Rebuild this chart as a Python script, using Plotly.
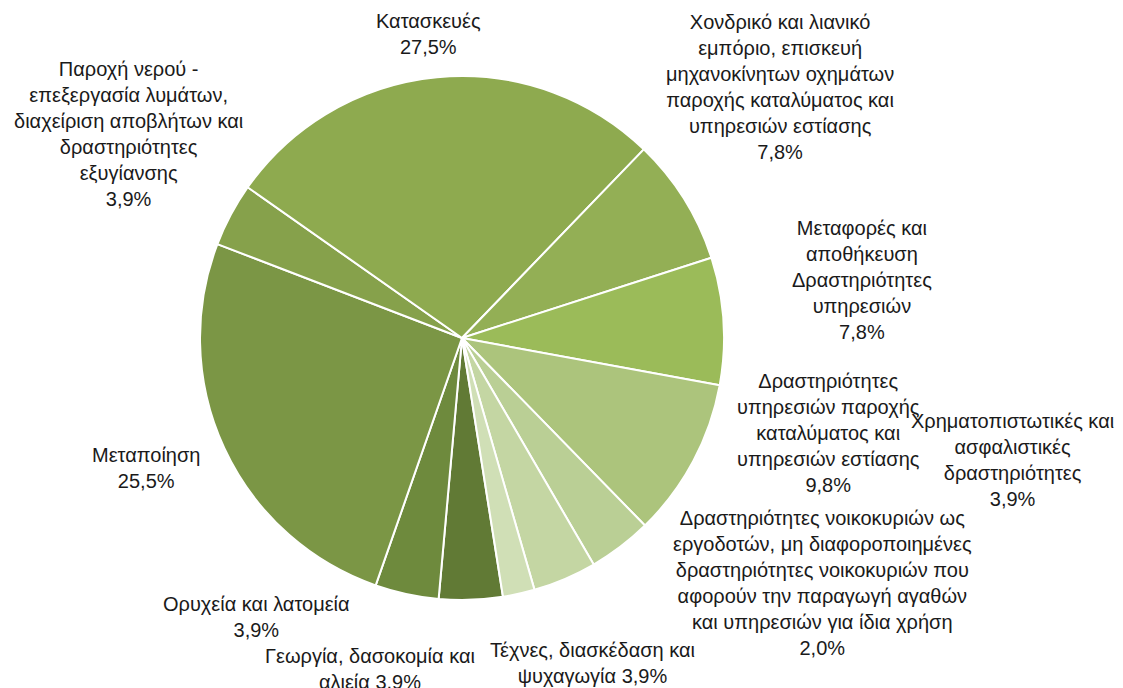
import plotly.graph_objects as go

# Data (counts; percentages derived)
categories = [
    "Γεωργία, δασοκομία και<br>αλιεία",
    "Ορυχεία και λατομεία",
    "Μεταποίηση",
    "Παροχή νερού -<br>επεξεργασία λυμάτων,<br>διαχείριση αποβλήτων και<br>δραστηριότητες<br>εξυγίανσης",
    "Κατασκευές",
    "Χονδρικό και λιανικό<br>εμπόριο, επισκευή<br>μηχανοκίνητων οχημάτων<br>παροχής καταλύματος και<br>υπηρεσιών εστίασης",
    "Μεταφορές και<br>αποθήκευση<br>Δραστηριότητες<br>υπηρεσιών",
    "Δραστηριότητες<br>υπηρεσιών παροχής<br>καταλύματος και<br>υπηρεσιών εστίασης",
    "Χρηματοπιστωτικές και<br>ασφαλιστικές<br>δραστηριότητες",
    "Τέχνες, διασκέδαση και<br>ψυχαγωγία",
    "Δραστηριότητες νοικοκυριών ως<br>εργοδοτών, μη διαφοροποιημένες<br>δραστηριότητες νοικοκυριών που<br>αφορούν την παραγωγή αγαθών<br>και υπηρεσιών για ίδια χρήση",
]
values = [2, 2, 13, 2, 14, 4, 4, 5, 2, 2, 1]

# Styling
colors = ["#617A35", "#6E8A3D", "#7B9645", "#86A14B", "#8EAA4F", "#93AF55",
          "#9BBB59", "#ACC47C", "#BACF95", "#C4D6A3", "#D0DFB6"]
pct_sep = [" ", "<br>", "<br>", "<br>", "<br>", "<br>", "<br>", "<br>", "<br>", " ", "<br>"]
label_pos = [(370, 669), (256, 617), (146, 468), (128, 134), (428, 34), (780, 87),
             (862, 280), (828, 433), (1012, 460), (592, 663), (822, 583)]

W, H = 1123, 688
OFF = 8  # page body margin offset

def px_x(px):
    return (px - OFF) / W

def px_y(py):
    return 1 - (py - OFF) / H

total = sum(values)

fig = go.Figure(go.Pie(
    labels=[c.replace("<br>", " ") for c in categories],
    values=values,
    sort=False,
    direction="clockwise",
    rotation=171,
    marker=dict(colors=colors, line=dict(color="white", width=2)),
    textinfo="none",
    hoverinfo="skip",
    showlegend=False,
    domain=dict(x=[px_x(200), px_x(724)], y=[px_y(600), px_y(76)]),
))

for cat, v, sep, (px, py) in zip(categories, values, pct_sep, label_pos):
    pct = f"{v / total * 100:.1f}".replace(".", ",") + "%"
    fig.add_annotation(
        x=px_x(px), y=px_y(py), xref="paper", yref="paper",
        text=cat + sep + pct, showarrow=False,
        xanchor="center", yanchor="middle", align="center",
        font=dict(family="Liberation Sans Narrow, Liberation Sans, Arial", size=20, color="#1a1a1a"),
    )

fig.update_layout(
    width=W, height=H,
    margin=dict(l=0, r=0, t=0, b=0),
    paper_bgcolor="white",
    plot_bgcolor="white",
)

fig.write_html("out.html")
